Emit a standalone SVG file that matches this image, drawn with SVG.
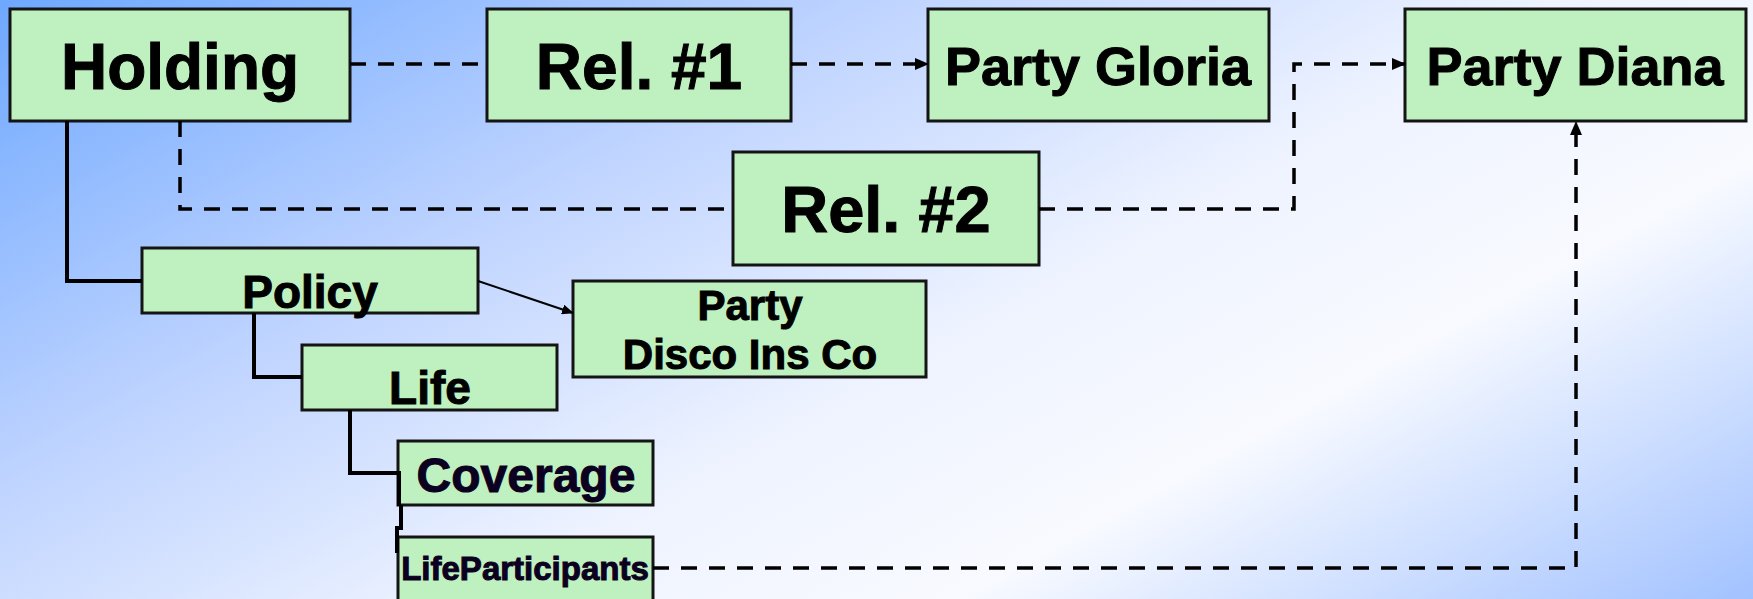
<svg xmlns="http://www.w3.org/2000/svg" width="1753" height="599" viewBox="0 0 1753 599">
<defs>
<linearGradient id="bg" gradientUnits="userSpaceOnUse" x1="0" y1="0" x2="660" y2="1200">
<stop offset="0" stop-color="#6ea8ff"/>
<stop offset="0.3" stop-color="#bcd2ff"/>
<stop offset="0.55" stop-color="#eef3ff"/>
<stop offset="0.72" stop-color="#f8faff"/>
<stop offset="1" stop-color="#a2c2ff"/>
</linearGradient>
<marker id="ah" markerUnits="userSpaceOnUse" markerWidth="14" markerHeight="12" refX="13" refY="6" orient="auto">
<path d="M0,0 L14,6 L0,12 Z" fill="#000"/>
</marker>
<marker id="ahs" markerUnits="userSpaceOnUse" markerWidth="12" markerHeight="10" refX="11" refY="5" orient="auto">
<path d="M0,0 L12,5 L0,10 Z" fill="#000"/>
</marker>
</defs>
<style>
.box{fill:#bff0bf;stroke:#141414;stroke-width:3}
.t{font-family:"Liberation Sans",Arial,sans-serif;font-weight:bold;fill:#000;stroke:#000;stroke-width:1;text-anchor:middle}
.dk{fill:#0c0020;stroke:#0c0020}
.solid{fill:none;stroke:#000;stroke-width:4}
.dash{fill:none;stroke:#000;stroke-width:3.5;stroke-dasharray:16 12}
.thin{fill:none;stroke:#000;stroke-width:2}
</style>
<rect x="0" y="0" width="1753" height="599" fill="url(#bg)"/>

<g id="holding"><rect class="box" x="10" y="9" width="340" height="112"/><text class="t" x="180" y="89" font-size="64">Holding</text></g>
<g id="rel1"><rect class="box" x="487" y="9" width="304" height="112"/><text class="t" x="639" y="89" font-size="64">Rel. #1</text></g>
<g id="party-gloria"><rect class="box" x="928" y="9" width="341" height="112"/><text class="t" x="1098" y="85" font-size="54">Party Gloria</text></g>
<g id="party-diana"><rect class="box" x="1405" y="9" width="341" height="112"/><text class="t" x="1575" y="85" font-size="54">Party Diana</text></g>
<g id="rel2"><rect class="box" x="733" y="152" width="306" height="113"/><text class="t" x="886" y="232" font-size="65">Rel. #2</text></g>
<g id="policy"><rect class="box" x="142" y="248" width="336" height="65"/><text class="t" x="310" y="308" font-size="46">Policy</text></g>
<g id="party-disco"><rect class="box" x="573" y="281" width="353" height="96"/><text class="t" x="750" y="320" font-size="42">Party</text><text class="t" x="750" y="369" font-size="42">Disco Ins Co</text></g>
<g id="life"><rect class="box" x="302" y="345" width="255" height="65"/><text class="t" x="430" y="404" font-size="46">Life</text></g>
<g id="coverage"><rect class="box" x="398" y="441" width="255" height="64"/><text class="t dk" x="526" y="492" font-size="48">Coverage</text></g>
<g id="life-participants"><rect class="box" x="398" y="537" width="255" height="80"/><text class="t dk" x="525" y="580" font-size="33">LifeParticipants</text></g>

<g id="connectors">
<path class="solid" d="M67,121 V281 H142"/>
<path class="solid" d="M254,313 V377 H302"/>
<path class="solid" d="M350,410 V473 H399 V506"/>
<path class="solid" d="M401,505 V528 H397 V553"/>
<path class="thin" d="M478,281 L573,313" marker-end="url(#ahs)"/>
<path class="dash" d="M350,64 H487"/>
<path class="dash" d="M791,64 H928" marker-end="url(#ah)"/>
<path class="dash" d="M180,121 V209 H733"/>
<path class="dash" d="M1039,209 H1294 V64 H1405" marker-end="url(#ah)"/>
<path class="dash" d="M653,568 H1576 V122" marker-end="url(#ah)"/>
</g>
</svg>
